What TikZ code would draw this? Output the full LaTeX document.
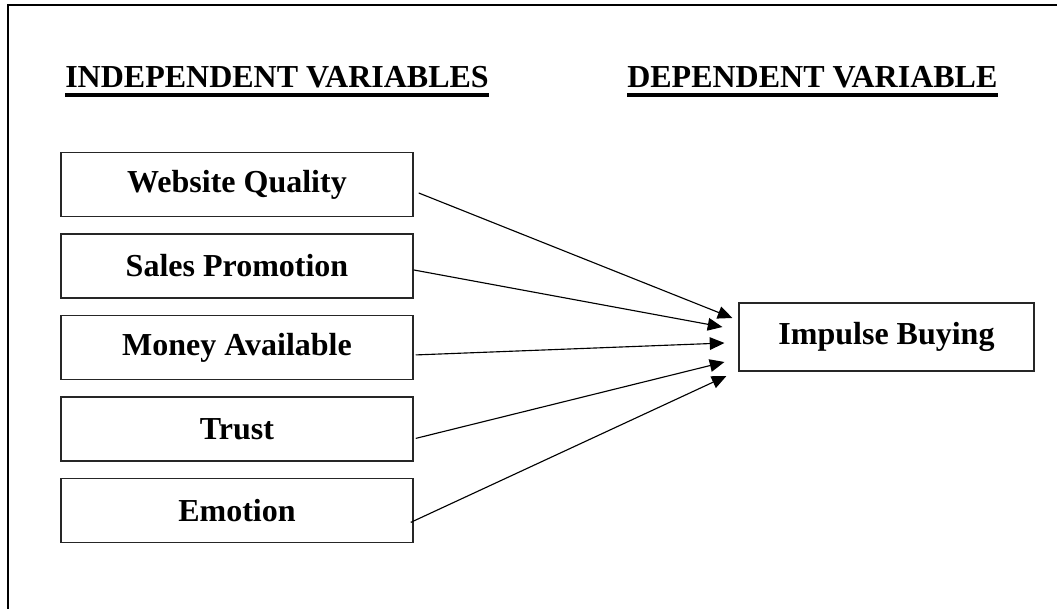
\documentclass[tikz,border=0pt]{standalone}
\usepackage{fontspec}
\setmainfont{Liberation Serif}
\usetikzlibrary{arrows.meta,positioning,calc}
\tikzset{
  varbox/.style={rectangle,draw=black!85,line width=1.1pt,fill=white,
    minimum width=264pt,minimum height=48pt,align=center,
    font=\fontsize{24}{28}\selectfont\bfseries,inner sep=2pt},
  outbox/.style={varbox,minimum width=221pt,minimum height=51pt},
  headtext/.style={anchor=base west,inner sep=0pt,
    font=\fontsize{24}{28}\selectfont\bfseries},
  uline/.style={line width=3pt},
  frameline/.style={line width=1.5pt},
  arrow/.style={-{Triangle[length=11pt,width=9.5pt]},line width=0.85pt},
}

\begin{document}
\begin{tikzpicture}[x=0.75pt,y=-0.75pt,node distance=12pt]
  \useasboundingbox (0,0) rectangle (1057,609);
  \draw[frameline] (8,609) |- (1057,5);
  % headings
  \node[headtext] (ivhead) at (65,88)  {INDEPENDENT VARIABLES};
  \node[headtext] (dvhead) at (627,88) {DEPENDENT VARIABLE};
  \draw[uline] ([shift={(0,7.5)}]ivhead.base west) -- ([shift={(0,7.5)}]ivhead.base east);
  \draw[uline] ([shift={(0,7.5)}]dvhead.base west) -- ([shift={(0,7.5)}]dvhead.base east);
  % variables
  \node[varbox] (wq) at (237,184.5) {Website Quality};
  \node[varbox, below=of wq] (sp) {Sales Promotion};
  \node[varbox, below=of sp] (ma) {Money Available};
  \node[varbox, below=of ma] (tr) {Trust};
  \node[varbox, below=of tr] (em) {Emotion};
  \node[outbox] (ib) at (886.5,337) {Impulse Buying};
  \draw[arrow] ([shift={(5,8.5)}]wq.east)  -- ([shift={(-6,-19)}]ib.west);
  \draw[arrow] ([shift={(0,4)}]sp.east)    -- ([shift={(-16,-10)}]ib.west);
  \draw[arrow] ([shift={(2,7.5)}]ma.east)  -- ([shift={(-14,6)}]ib.west);
  \draw[arrow] ([shift={(2,9.5)}]tr.east)  -- ([shift={(-14,25)}]ib.west);
  \draw[arrow] ([shift={(-3,12)}]em.east)  -- ([shift={(-12,39)}]ib.west);
\end{tikzpicture}
\end{document}
